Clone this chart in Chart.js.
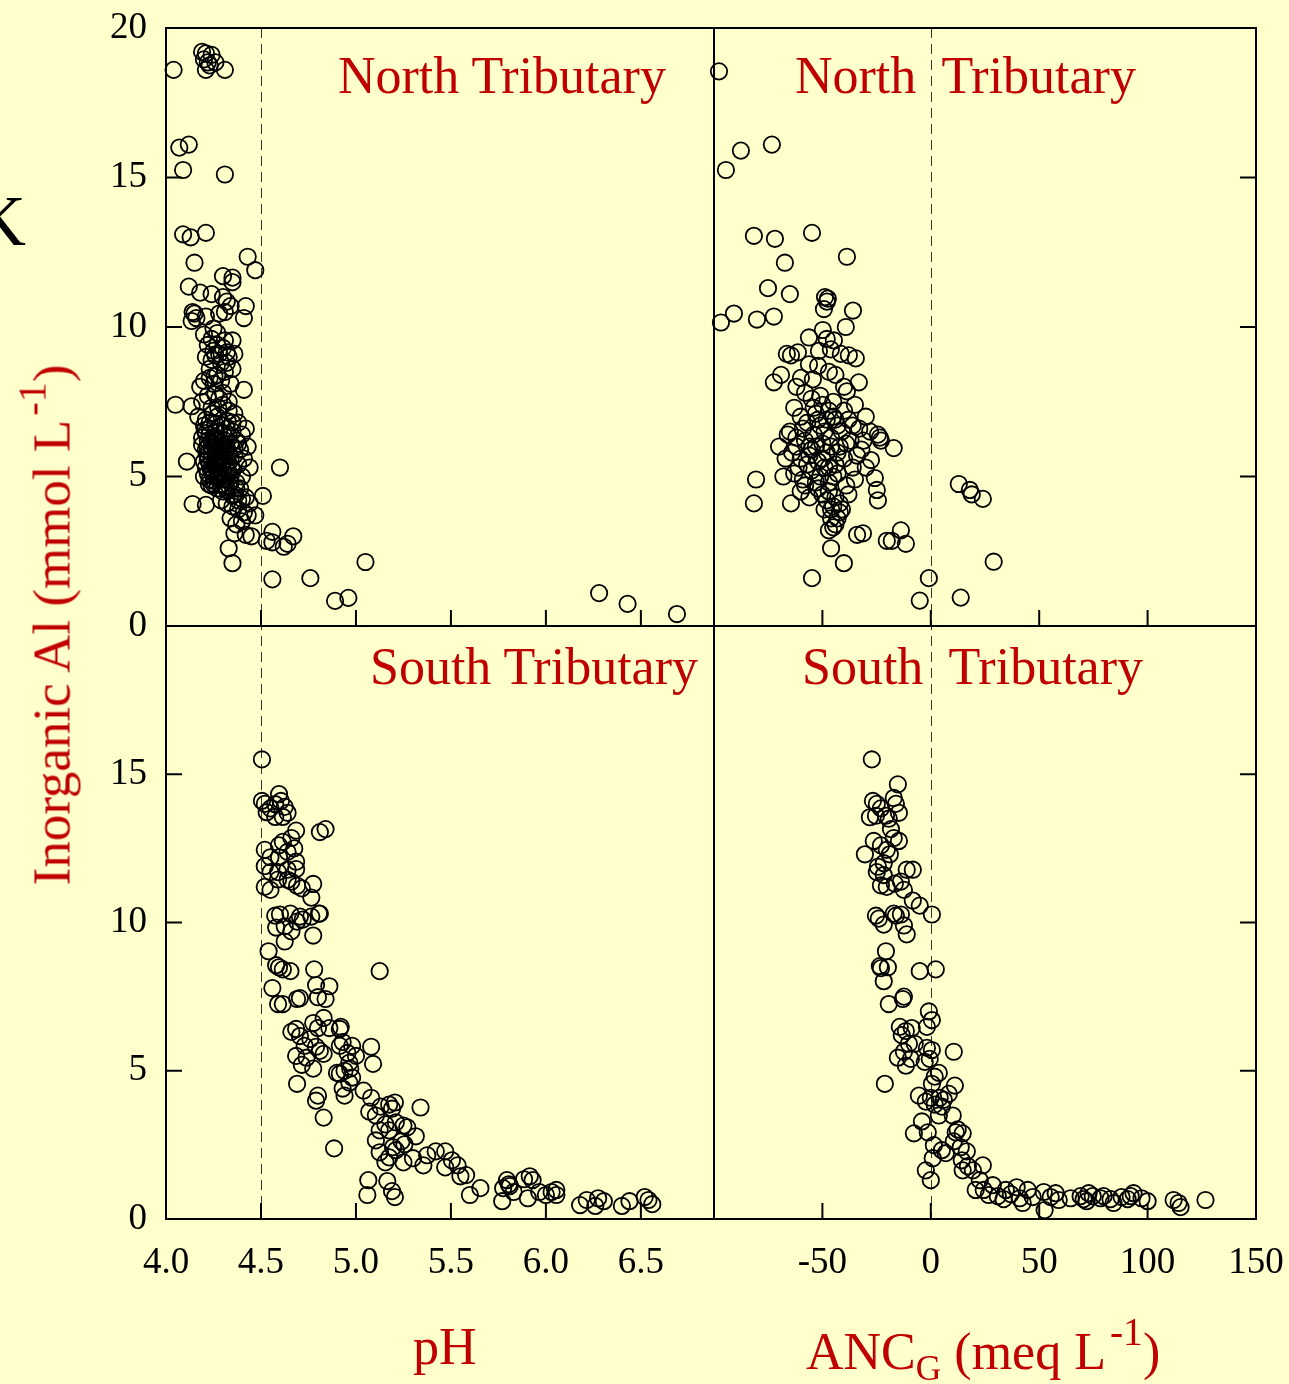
<!DOCTYPE html>
<html>
<head>
<meta charset="utf-8">
<title>Inorganic Al vs pH and ANC</title>
<script src="https://cdn.jsdelivr.net/npm/chart.js@4.4.0/dist/chart.umd.min.js"></script>
<style>
    html, body { margin: 0; padding: 0; background: #ffffcc; }
    #wrap { position: relative; width: 1289px; height: 1384px; overflow: hidden;
            font-family: "Liberation Serif", "Times New Roman", serif; }
    #wrap canvas { position: absolute; left: 0; top: 0; }
    .lbl { position: absolute; white-space: pre; line-height: 1; font-size: 52px; color: #c00000; }
    .lbl sup, .lbl sub { line-height: 0; }
    .lbl sup { font-size: 0.76em; vertical-align: 0.6em; margin-left: 4px; }
    .lbl sub { font-size: 0.68em; vertical-align: -0.3em; }
</style>
</head>
<body>
<div id="wrap">
    <canvas id="chart" width="1289" height="1384"></canvas>

    <div class="lbl" style="left:-26px; top:185px; font-size:72px; color:#000;">K</div>

    <div class="lbl" style="left:338px; top:50px;">North Tributary</div>
    <div class="lbl" style="left:795px; top:50px;">North  Tributary</div>
    <div class="lbl" style="left:370px; top:641px;">South Tributary</div>
    <div class="lbl" style="left:802px; top:641px;">South  Tributary</div>

    <div class="lbl" style="left:52px; top:625px; font-size:53px; transform:translate(-50%,-50%) rotate(-90deg);">Inorganic Al (mmol L<sup>-1</sup>)</div>
    <div class="lbl" style="left:413px; top:1321px;">pH</div>
    <div class="lbl" style="left:806px; top:1326px;">ANC<sub>G</sub> (meq L<sup>-1</sup>)</div>
</div>

<script>

//region :: Data

// axis ranges and reference lines
var phRange  = [4.0, 6.885]
    , ancRange = [-100, 150]
    , alRange  = [0, 20]
    , phLimit  = 4.5
    , ancLimit = 0
    ;

// North Tributary: [pH, inorganic Al]
var northPh = [
    [4.04,18.6],[4.19,19.2],[4.21,19.15],[4.24,19.1],[4.20,18.95],[4.22,18.85],[4.26,18.85],[4.21,18.6],[4.31,18.6],[4.23,18.75],
    [4.07,16.0],[4.12,16.1],[4.09,15.25],[4.31,15.1],
    [4.09,13.1],[4.13,13.0],[4.21,13.15],[4.15,12.15],[4.43,12.35],[4.47,11.9],
    [4.12,11.35],[4.18,11.15],[4.24,11.1],[4.30,11.7],[4.35,11.65],[4.35,11.5],[4.30,11.0],[4.32,10.85],[4.34,10.7],[4.31,10.5],
    [4.42,10.7],[4.41,10.3],[4.14,10.5],[4.16,10.3],[4.21,10.35],[4.135,10.2],[4.15,10.45],[4.28,10.45],[4.25,9.95],[4.20,9.75],
    [4.27,9.8],[4.35,9.55],[4.22,9.4],[4.25,9.2],[4.28,9.1],[4.30,9.3],[4.33,9.0],[4.21,9.0],[4.24,8.9],[4.26,9.05],
    [4.32,9.15],[4.29,8.8],[4.36,9.1],[4.23,8.6],[4.27,8.4],[4.31,8.5],[4.20,8.2],[4.18,8.0],[4.25,8.1],[4.34,8.1],
    [4.41,7.9],[4.05,7.4],[4.135,7.35],[4.22,7.7],[4.28,7.6],[4.19,7.5],[4.24,7.3],[4.30,7.4],[4.33,7.2],[4.36,7.1],
    [4.27,7.0],[4.21,6.9],[4.17,7.0],[4.38,6.8],[4.40,6.4],
    [4.20,6.7],[4.23,6.6],[4.26,6.5],[4.29,6.7],[4.32,6.6],[4.35,6.5],[4.19,6.3],[4.22,6.2],[4.25,6.3],[4.28,6.1],
    [4.31,6.2],[4.34,6.1],[4.37,6.2],[4.21,5.9],[4.24,5.8],[4.27,5.9],[4.30,5.7],[4.33,5.8],[4.36,5.7],[4.39,5.9],
    [4.20,5.5],[4.23,5.4],[4.26,5.6],[4.29,5.3],[4.32,5.4],[4.35,5.2],[4.38,5.4],[4.22,5.1],[4.25,5.0],[4.28,5.2],
    [4.31,4.9],[4.34,5.0],[4.37,4.8],[4.40,5.0],[4.24,4.7],[4.27,4.6],[4.30,4.5],[4.33,4.7],[4.36,4.4],[4.39,4.6],
    [4.42,4.3],[4.29,4.2],[4.32,4.1],[4.35,4.0],[4.38,3.9],[4.41,3.8],[4.44,4.1],[4.34,3.6],[4.37,3.4],[4.40,3.5],
    [4.43,3.7],[4.45,3.0],[4.42,3.05],[4.36,3.1],
    [4.22,6.0],[4.24,5.6],[4.21,5.3],[4.23,6.4],[4.25,5.2],[4.26,6.0],[4.27,5.5],[4.28,5.8],[4.22,5.7],[4.25,6.1],
    [4.20,5.0],[4.23,4.9],
    [4.19,6.05],[4.21,6.45],[4.23,6.8],[4.26,6.75],[4.24,6.15],[4.27,6.25],[4.29,6.0],[4.30,6.45],[4.32,5.95],[4.33,6.35],
    [4.26,5.35],[4.28,5.5],[4.30,5.1],[4.31,5.55],[4.33,5.15],[4.25,4.75],[4.27,4.95],[4.29,4.75],[4.32,4.55],[4.34,4.8],
    [4.35,4.35],[4.37,4.6],[4.38,4.2],[4.40,4.25],[4.22,5.55],[4.24,5.15],[4.26,5.8],[4.28,6.5],[4.29,5.6],[4.31,5.85],
    [4.34,5.55],[4.36,5.95],[4.38,6.1],[4.35,6.8],[4.33,7.5],[4.30,7.8],[4.26,7.75],[4.29,8.2],[4.23,8.3],[4.32,8.8],
    [4.35,8.6],[4.27,9.4],[4.31,9.55],[4.24,9.6],[4.42,6.6],[4.43,6.0],[4.41,5.6],[4.44,5.3],
    [4.235,5.25],[4.245,5.95],[4.255,5.45],[4.265,6.2],[4.275,5.05],[4.285,5.95],[4.295,5.45],[4.305,6.05],[4.315,5.25],[4.255,4.85],
    [4.215,5.75],[4.205,6.55],[4.225,4.75],[4.295,4.9],[4.315,4.65],[4.345,5.3],[4.325,6.85],[4.245,7.1],[4.275,7.3],[4.255,8.35],
    [4.11,5.5],[4.14,4.08],[4.21,4.05],[4.60,5.3],[4.51,4.35],[4.47,3.7],[4.33,2.6],[4.35,2.1],[4.56,3.15],[4.53,2.85],
    [4.56,2.8],[4.62,2.65],[4.67,3.0],[4.64,2.75],[4.56,1.56],[4.76,1.6],[4.89,0.84],[4.96,0.94],[5.05,2.14],
    [6.28,1.1],[6.43,0.74],[6.69,0.4]
];

// North Tributary: [ANC_G, inorganic Al]
var northAnc = [
    [-97.7,18.55],[-94.5,15.25],[-87.6,15.9],[-73.3,16.1],[-81.6,13.05],[-71.9,12.95],[-54.8,13.15],[-38.7,12.35],[-67.3,12.15],[-75.1,11.3],
    [-65.0,11.1],[-96.8,10.15],[-90.8,10.45],[-80.2,10.25],[-72.4,10.35],
    [-48.8,11.0],[-47.9,10.85],[-49.3,10.6],[-47.5,10.95],[-35.9,10.55],[-39.2,10.0],[-56.2,9.65],[-49.8,9.9],[-44.7,9.55],[-61.3,9.15],
    [-64.5,9.05],[-66.4,9.1],[-51.6,9.2],[-46.1,9.25],[-41.5,9.1],[-37.8,9.05],[-34.6,8.95],[-56.2,8.75],[-47.0,8.5],[-72.4,8.15],
    [-69.1,8.4],[-59.9,8.3],[-54.4,8.25],[-33.2,8.15],[-38.7,7.85],
    [-62,8.0],[-58,7.8],[-55,7.6],[-50,7.4],[-45,7.5],[-40,7.2],[-35,7.4],[-30,7.0],[-63,7.3],[-60,7.0],
    [-57,6.8],[-53,7.1],[-48,6.9],[-43,6.7],[-38,6.9],[-33,6.6],[-28,6.5],[-65,6.5],[-62,6.3],[-58,6.2],
    [-54,6.4],[-50,6.1],[-46,6.3],[-42,6.0],[-37,6.2],[-32,5.9],[-64,5.8],[-60,5.6],[-56,5.7],[-52,5.5],
    [-48,5.8],[-44,5.4],[-40,5.6],[-36,5.3],[-63,5.1],[-59,4.9],[-55,5.2],[-51,5.0],[-47,4.8],[-43,5.1],
    [-39,4.7],[-35,4.9],[-60,4.5],[-56,4.3],[-52,4.6],[-48,4.2],[-45,4.0],[-42,3.8],[-46,3.6],[-44,3.4],
    [-41,3.9],[-49,3.9],[-38,4.4],[-47,3.2],[-51,6.7],[-53,6.0],[-55,5.9],[-49,5.3],[-66,6.4],[-67,5.6],
    [-68,5.0],[-70,6.0],
    [-54,7.3],[-51,7.7],[-47,7.2],[-44,6.9],[-41,6.5],[-39,6.1],[-52,6.9],[-49,6.5],[-46,6.0],[-43,5.8],
    [-50,5.6],[-47,5.3],[-45,5.0],[-53,4.8],[-50,4.4],[-47,4.5],[-44,4.3],[-46,3.9],[-43,3.6],[-45,3.3],
    [-42,4.1],[-57,5.4],[-58,4.7],[-61,5.3],[-62,6.0],[-59,6.6],[-56,6.0],[-45,7.0],[-36,6.7],[-34,5.7],
    [-31,6.2],[-30,5.3],[-52,8.7],[-48,9.6],[-44,8.4],[-40,8.0],
    [-17.1,5.95],[-23.0,6.2],[-24.4,6.4],[-23.5,6.3],[-27.6,5.55],[-25.8,4.95],[-24.9,4.55],[-24.4,4.2],[-80.6,4.9],[-81.6,4.1],
    [-64.5,4.1],[-20.3,2.85],[-18.0,2.85],[-13.8,3.2],[-11.5,2.75],[-34.0,3.05],[-31.3,3.1],[-46.0,2.6],[-40.1,2.1],[-54.8,1.6],
    [-5.1,0.85],[-0.9,1.6],[13.8,0.95],[29.0,2.15],[12.9,4.75],[18.0,4.55],[18.9,4.4],[24.0,4.25]
];

// South Tributary: [pH, inorganic Al]
var southPh = [
    [4.505,15.5],
    [4.505,14.1],[4.52,14.0],[4.55,13.85],[4.595,14.33],[4.605,14.1],[4.625,13.9],[4.64,13.7],[4.575,13.99],[4.53,13.72],[4.615,13.56],
    [4.575,13.56],[4.52,12.45],[4.55,12.2],[4.595,12.6],[4.615,12.72],[4.66,12.85],[4.685,13.1],[4.64,12.38],[4.595,12.2],[4.675,12.5],
    [4.52,11.9],[4.55,11.7],[4.59,11.7],[4.64,11.78],[4.685,11.8],[4.52,11.2],[4.55,11.1],[4.59,11.45],[4.64,11.44],[4.66,11.38],
    [4.685,12.05],[4.81,13.05],[4.84,13.15],[4.775,11.3],[4.765,10.84],[4.715,11.15],[4.69,11.24],
    [4.575,10.23],[4.6,10.27],[4.655,10.3],[4.705,10.2],[4.72,10.1],[4.805,10.3],[4.765,10.2],[4.625,9.87],[4.69,10.03],[4.66,9.7],
    [4.58,9.83],[4.625,9.36],[4.775,9.56],[4.81,10.3],
    [4.54,9.03],[4.58,8.56],[4.595,8.49],[4.615,8.42],[4.655,8.36],[4.56,7.79],[4.59,7.25],[4.615,7.25],[4.78,8.42],[4.79,7.89],
    [4.8,7.48],[4.84,7.42],[4.86,7.85],[4.69,7.42],[4.705,7.45],[5.125,8.36],
    [4.83,6.78],[4.86,6.44],[4.8,6.44],[4.915,6.41],[4.685,6.41],[4.705,6.17],[4.73,5.84],[4.76,6.07],[4.775,6.61],[4.66,6.31],
    [4.685,5.5],[4.715,5.2],[4.74,5.44],[4.79,5.81],[4.81,5.67],[4.775,5.07],[4.83,5.57],[4.915,5.84],[4.8,4.16],[4.79,3.99],
    [4.83,3.42],[4.885,2.38],[4.69,4.56],
    [4.92,6.48],[4.93,5.97],[4.955,5.6],[4.98,5.84],[5.0,5.5],[4.965,5.27],[5.08,5.81],[5.09,5.23],[4.9,4.93],[4.915,4.9],
    [4.94,5.0],[4.97,5.07],[4.98,4.77],[4.965,4.6],[4.93,4.4],[4.94,4.16],[5.04,4.33],
    [5.08,4.09],[5.07,3.62],[5.105,3.49],[5.13,3.79],[5.175,3.86],[5.205,3.93],[5.19,3.72],[5.155,3.19],[5.175,2.99],[5.125,2.99],
    [5.105,2.65],[5.21,3.26],[5.25,3.15],[5.24,2.62],[5.195,2.42],[5.175,2.08],[5.125,2.25],[5.155,1.91],[5.19,0.94],[5.205,0.74],
    [5.165,1.28],[5.27,3.09],[5.21,2.32],[5.25,1.91],[5.34,3.76],[5.255,2.52],
    [5.315,2.79],[5.3,2.05],[5.355,1.81],[5.375,2.15],[5.42,2.28],[5.47,2.28],[5.505,1.98],[5.47,1.74],[5.535,1.81],
    [5.55,1.44],[5.6,0.81],[5.58,1.48],[5.655,1.04],[5.77,0.6],[5.775,1.04],[5.805,1.17],[5.795,1.31],[5.81,1.11],[5.83,0.91],
    [5.885,1.34],[5.915,1.44],[5.905,0.7],[5.93,1.31],[5.965,0.91],[6.0,0.81],[6.03,0.91],[6.055,0.98],[6.055,0.81],
    [6.18,0.47],[6.215,0.64],[6.26,0.44],[6.275,0.7],[6.305,0.6],[6.4,0.44],[6.44,0.6],[6.52,0.74],[6.54,0.64],[6.56,0.5],
    [5.065,1.31],[5.06,0.81]
];

// South Tributary: [ANC_G, inorganic Al]
var southAnc = [
    [-27.2,15.5],[-15.2,14.66],
    [-26.7,14.1],[-24.9,14.0],[-23.0,13.85],[-20.7,13.6],[-19.4,13.5],[-25.3,13.6],[-28.1,13.55],[-17.1,14.2],[-16.1,14.0],[-14.7,13.7],
    [-30.4,12.3],[-26.3,12.75],[-23.0,12.6],[-20.3,12.45],[-18.9,12.3],[-21.7,12.0],[-24.4,11.88],[-17.1,12.85],[-14.7,12.75],[-18.4,13.15],
    [-24.9,11.7],[-20.3,11.2],[-21.7,11.6],[-11.1,11.78],[-8.3,11.78],
    [-23.0,11.25],[-16.6,11.31],[-13.8,11.38],[-12.4,11.1],[-8.3,10.74],[-5.1,10.57],
    [-25.3,10.23],[-24.0,10.13],[-21.7,9.93],[-16.1,10.23],[-13.8,10.27],[-17.1,10.3],[-12.4,9.9],[-11.1,9.6],[0.5,10.27],
    [-20.7,9.03],[-19.8,8.49],[-21.7,8.02],[-23.0,8.46],[-23.5,8.53],[-19.4,7.25],[-21.2,4.56],[-12.4,7.5],[-12.9,7.42],[-5.1,8.36],
    [2.3,8.42],[-0.9,7.0],[0.5,6.71],[-1.8,6.48],
    [-14.3,6.48],[-11.5,6.34],[-8.8,6.44],[-13.4,6.2],[-7.4,5.91],[-12.4,5.64],[-15.2,5.44],[-11.5,5.17],[-9.2,5.4],[-10.1,5.91],
    [-1.8,5.77],[-0.5,5.4],[-2.8,5.3],[0.5,5.7],[10.6,5.64],
    [3.7,4.93],[1.8,4.8],[0.5,4.56],[4.1,4.09],[1.8,3.86],[5.1,3.79],[0,4.09],[-2.3,3.96],[3.7,3.49],[6.0,4.02],
    [8.3,4.22],[11.1,4.5],[-5.5,4.16],[-4.1,3.29],[-1.4,2.92],[-7.8,2.89],
    [10.1,3.49],[11.5,2.92],[10.6,2.62],[12.4,3.02],[13.8,2.42],[14.7,2.89],[16.6,2.28],[14.3,1.98],[17.1,1.78],[19.4,1.64],
    [22.6,1.31],[20.7,0.98],[14.7,1.64],[6.9,2.22],[5.1,2.32],[1.4,2.49],[0.9,2.05],[-2.3,1.64],[0,1.31],
    [24.0,1.81],[24.4,0.98],[26.7,0.81],[28.6,1.14],[30.9,0.77],[33.6,0.67],[34.6,0.98],[36.9,0.84],[39.6,1.07],[41.0,0.7],
    [42.4,0.54],[44.7,0.98],[47.0,0.74],[52.1,0.91],[52.5,0.3],[55.3,0.74],[57.6,0.87],[59.0,0.64],
    [64.5,0.7],[69.1,0.77],[70.5,0.67],[71.9,0.6],[72.8,0.87],[74.7,0.77],[78.3,0.7],[79.7,0.77],[82.9,0.67],[84.3,0.54],
    [88.0,0.74],[90.8,0.67],[92.2,0.77],[93.5,0.87],[97.2,0.7],[100,0.6],[112,0.64],[114.3,0.54],[115.2,0.4],[126.7,0.64]
];

//endregion


// one dataset per panel, open black circles
function panel(pairs, xAxisID, yAxisID) {
    return {
        data: pairs.map(p => ({x: p[0], y: p[1]})),
        xAxisID: xAxisID,
        yAxisID: yAxisID,
        showLine: false,
        clip: false,
        pointStyle: 'circle',
        pointRadius: 8.2,
        pointBorderWidth: 1.8,
        pointBorderColor: '#000',
        pointBackgroundColor: 'rgba(0,0,0,0)'
    };
}

var tickFont = {family: '"Liberation Serif", "Times New Roman", serif', size: 37};

// drop the label overhang padding so the plot frame lands where the layout says
function noOverhang(s) {
    s.paddingTop = s.paddingBottom = s.paddingLeft = s.paddingRight = 0;
}

function xAxis(range, step, weight, fmt) {
    return {
        type: 'linear', position: 'bottom', stack: 'x', stackWeight: weight,
        min: range[0], max: range[1],
        grid: {display: false, drawTicks: false}, border: {display: false},
        ticks: {stepSize: step, includeBounds: false, autoSkip: false, maxRotation: 0,
                padding: 22, color: '#000', font: tickFont, callback: fmt},
        afterFit: s => { s.height = 80; noOverhang(s); }
    };
}

function yAxis(weight, order, fmt) {
    return {
        type: 'linear', position: 'left', stack: 'y', stackWeight: weight, weight: order,
        min: alRange[0], max: alRange[1],
        grid: {display: false, drawTicks: false}, border: {display: false},
        ticks: {stepSize: 5, autoSkip: false, padding: 19, color: '#000', font: tickFont, callback: fmt},
        afterFit: s => { s.width = 166; noOverhang(s); }
    };
}

// frame, dashed reference lines and inward tick marks
var framePlugin = {
    id: 'frame',
    beforeDatasetsDraw(chart) {
        var ctx = chart.ctx, s = chart.scales;
        ctx.save();
        ctx.setLineDash([10, 6]);
        ctx.lineWidth = 1;
        ctx.strokeStyle = '#333';
        [[s.xL, phLimit], [s.xR, ancLimit]].forEach(([sc, v]) => {
            var x = Math.round(sc.getPixelForValue(v)) + 0.5;
            ctx.beginPath(); ctx.moveTo(x, s.yT.top); ctx.lineTo(x, s.yB.bottom); ctx.stroke();
        });
        ctx.restore();
    },
    afterDatasetsDraw(chart) {
        var ctx = chart.ctx, s = chart.scales, L = 16;
        var line = (x1, y1, x2, y2) => { ctx.beginPath(); ctx.moveTo(x1, y1); ctx.lineTo(x2, y2); ctx.stroke(); };
        ctx.save();
        ctx.strokeStyle = '#000';
        ctx.lineWidth = 2;
        ctx.strokeRect(s.xL.left, s.yT.top, s.xR.right - s.xL.left, s.yB.bottom - s.yT.top);
        line(s.xL.right, s.yT.top, s.xL.right, s.yB.bottom);
        line(s.xL.left, s.yT.bottom, s.xR.right, s.yT.bottom);

        // y ticks: left edge points right, right edge points left
        [s.yT, s.yB].forEach(sc => {
            sc.ticks.forEach(t => {
                if (t.value <= sc.min || t.value >= sc.max) return;
                var y = sc.getPixelForValue(t.value);
                line(s.xL.left, y, s.xL.left + L, y);
                line(s.xR.right, y, s.xR.right - L, y);
            });
        });
        // x ticks on the bottom edge of both rows, pointing up
        [s.xL, s.xR].forEach(sc => {
            sc.ticks.forEach(t => {
                if (t.value <= sc.min || t.value >= sc.max) return;
                var x = sc.getPixelForValue(t.value);
                [s.yT.bottom, s.yB.bottom].forEach(y => line(x, y, x, y - L));
            });
        });
        ctx.restore();
    }
};

new Chart(document.getElementById('chart'), {
    type: 'scatter',
    data: {
        datasets: [
            panel(northPh,  'xL', 'yT'),
            panel(northAnc, 'xR', 'yT'),
            panel(southPh,  'xL', 'yB'),
            panel(southAnc, 'xR', 'yB')
        ]
    },
    options: {
        responsive: false,
        animation: false,
        events: [],
        layout: {padding: {left: 0, right: 33, top: 28, bottom: 85}},
        plugins: {legend: {display: false}, tooltip: {enabled: false}},
        scales: {
            xL: xAxis(phRange, 0.5, 548, v => v.toFixed(1)),
            xR: xAxis(ancRange, 50, 542, v => v <= ancRange[0] ? '' : String(v)),
            yT: yAxis(598, 1, v => String(v)),
            yB: yAxis(593, 0, v => v >= alRange[1] ? '' : String(v))
        }
    },
    plugins: [framePlugin]
});

</script>
</body>
</html>
